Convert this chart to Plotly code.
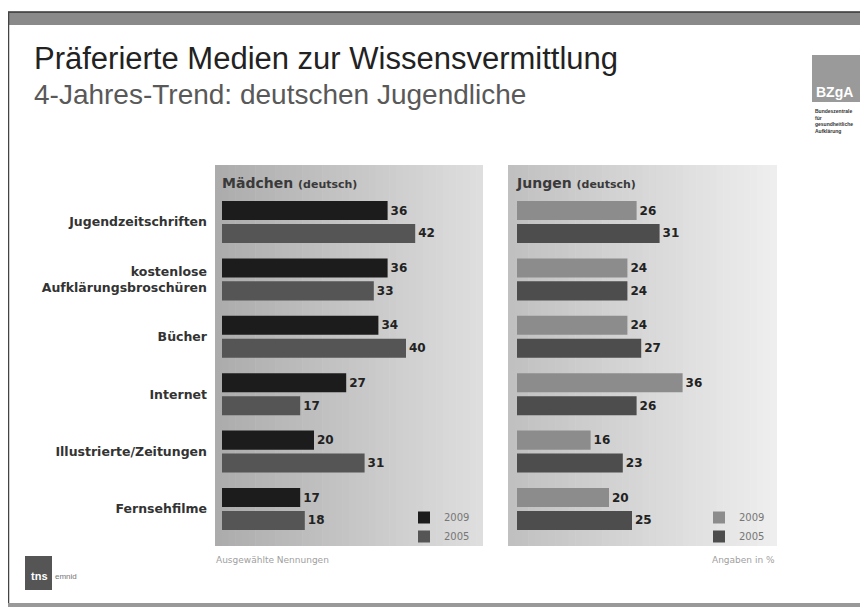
import plotly.graph_objects as go

W, H = 868, 608

# ---- data ----
categories = ["Jugendzeitschriften", "kostenlose<br>Aufklärungsbroschüren", "Bücher",
              "Internet", "Illustrierte/Zeitungen", "Fernsehfilme"]
maedchen_2009 = [36, 36, 34, 27, 20, 17]
maedchen_2005 = [42, 33, 40, 17, 31, 18]
jungen_2009 = [26, 24, 24, 36, 16, 20]
jungen_2005 = [31, 24, 27, 26, 23, 25]
years = ["2009", "2005"]

OFF = 8  # page body margin offset


def fx(p):
    return (p - OFF) / W


def fy(p):
    return 1 - (p - OFF) / H


def hexgray(v):
    v = int(round(v))
    return "#%02x%02x%02x" % (v, v, v)


FONT = "Liberation Sans, Arial, sans-serif"
DV = "DejaVu Sans, Verdana, sans-serif"
PXU = 4.6  # pixels per percent

fig = go.Figure()

common = dict(orientation="h", textposition="outside", texttemplate="%{x}",
              textfont=dict(family=DV, size=12, color="#222", weight="bold"),
              constraintext="none", cliponaxis=False, marker_line_width=0,
              hoverinfo="skip")

fig.add_trace(go.Bar(y=categories, x=maedchen_2009, name=years[0], marker_color="#1c1c1c",
                     xaxis="x", yaxis="y", legend="legend", **common))
fig.add_trace(go.Bar(y=categories, x=maedchen_2005, name=years[1], marker_color="#555555",
                     xaxis="x", yaxis="y", legend="legend", **common))
fig.add_trace(go.Bar(y=categories, x=jungen_2009, name=years[0], marker_color="#8c8c8c",
                     xaxis="x2", yaxis="y2", legend="legend2", **common))
fig.add_trace(go.Bar(y=categories, x=jungen_2005, name=years[1], marker_color="#4d4d4d",
                     xaxis="x2", yaxis="y2", legend="legend2", **common))

# panel geometry (pixels)
L1, R1 = 215, 483
L2, R2 = 508, 777
PT, PB = 165, 546
y_top, y_bot = 193.3, 537.7

shapes = []


def gradient_panel(x0, x1, c0, c1, n=40):
    for i in range(n):
        a = x0 + (x1 - x0) * i / n
        b = x0 + (x1 - x0) * (i + 1) / n + 0.6
        c = c0 + (c1 - c0) * i / (n - 1)
        shapes.append(dict(type="rect", xref="paper", yref="paper", layer="below",
                           x0=fx(a), x1=fx(min(b, x1)), y0=fy(PB), y1=fy(PT),
                           fillcolor=hexgray(c), line_width=0))


gradient_panel(L1, R1, 172, 222)
gradient_panel(L2, R2, 192, 238)

# frame: top band, left border, bottom line
shapes.append(dict(type="rect", xref="paper", yref="paper", x0=fx(8), x1=1, y0=fy(25), y1=fy(12),
                   fillcolor="#8a8a8a", line_width=0, layer="below"))
shapes.append(dict(type="line", xref="paper", yref="paper", x0=fx(8), x1=1, y0=fy(12), y1=fy(12),
                   line=dict(color="#333", width=1.5)))
shapes.append(dict(type="line", xref="paper", yref="paper", x0=fx(8.5), x1=fx(8.5), y0=fy(606), y1=fy(12),
                   line=dict(color="#444", width=1.5)))
shapes.append(dict(type="rect", xref="paper", yref="paper", x0=fx(8), x1=1, y0=fy(607), y1=fy(603),
                   fillcolor="#999", line_width=0))
# BZgA logo block
shapes.append(dict(type="rect", xref="paper", yref="paper", x0=fx(812), x1=1, y0=fy(102), y1=fy(55),
                   fillcolor="#9a9a9a", line_width=0))
# tns emnid logo block
shapes.append(dict(type="rect", xref="paper", yref="paper", x0=fx(25), x1=fx(52), y0=fy(590), y1=fy(556),
                   fillcolor="#555", line_width=0))

annotations = [
    dict(text="Präferierte Medien zur Wissensvermittlung", x=fx(32), y=fy(58), xanchor="left",
         yanchor="middle", font=dict(family=FONT, size=31, color="#222")),
    dict(text="4-Jahres-Trend: deutschen Jugendliche", x=fx(32), y=fy(95), xanchor="left",
         yanchor="middle", font=dict(family=FONT, size=28, color="#595959")),
    dict(text="Mädchen <span style='font-size:11px'>(deutsch)</span>", x=fx(220), y=fy(183),
         xanchor="left", yanchor="middle", font=dict(family=DV, size=14, color="#3a3a3a", weight="bold")),
    dict(text="Jungen <span style='font-size:11px'>(deutsch)</span>", x=fx(514), y=fy(183),
         xanchor="left", yanchor="middle", font=dict(family=DV, size=14, color="#3a3a3a", weight="bold")),
    dict(text="Ausgewählte Nennungen", x=fx(214), y=fy(560), xanchor="left", yanchor="middle",
         font=dict(family=DV, size=9, color="#a0a0a0")),
    dict(text="Angaben in %", x=fx(777), y=fy(560), xanchor="right", yanchor="middle",
         font=dict(family=DV, size=9, color="#a0a0a0")),
    dict(text="<b>BZgA</b>", x=fx(814), y=fy(92), xanchor="left", yanchor="middle",
         font=dict(family=FONT, size=14, color="white")),
    dict(text="Bundeszentrale<br>für<br>gesundheitliche<br>Aufklärung", x=fx(813), y=fy(106),
         xanchor="left", yanchor="top", align="left",
         font=dict(family=FONT, size=5, color="#333", weight="bold")),
    dict(text="<b>tns</b>", x=fx(29), y=fy(576), xanchor="left", yanchor="middle",
         font=dict(family=FONT, size=11, color="white")),
    dict(text="emnid", x=fx(53), y=fy(576), xanchor="left", yanchor="middle",
         font=dict(family=FONT, size=8, color="#777")),
]
for a in annotations:
    a.update(xref="paper", yref="paper", showarrow=False)

legend_common = dict(font=dict(family=DV, size=10, color="#777"), bgcolor="rgba(0,0,0,0)",
                     xanchor="left", yanchor="top", tracegroupgap=0, itemwidth=30,
                     traceorder="normal")

fig.update_layout(
    width=W, height=H, margin=dict(l=0, r=0, t=0, b=0),
    paper_bgcolor="white", plot_bgcolor="rgba(0,0,0,0)",
    barmode="group", bargap=0.2, bargroupgap=0.17,
    showlegend=True,
    legend=dict(x=fx(404), y=fy(503), **legend_common),
    legend2=dict(x=fx(699), y=fy(503), **legend_common),
    xaxis=dict(domain=[fx(222), fx(R1)], range=[0, (R1 - 222) / PXU], visible=False, fixedrange=True),
    xaxis2=dict(domain=[fx(517), fx(R2)], range=[0, (R2 - 517) / PXU], visible=False, fixedrange=True),
    yaxis=dict(domain=[fy(y_bot), fy(y_top)], autorange="reversed", showgrid=False, zeroline=False,
               showline=False, ticks="", ticklabelstandoff=14,
               tickfont=dict(family=DV, size=12.5, color="#333", weight="bold")),
    yaxis2=dict(domain=[fy(y_bot), fy(y_top)], autorange="reversed", anchor="x2", showgrid=False,
                zeroline=False, showline=False, showticklabels=False, ticks=""),
    shapes=shapes, annotations=annotations,
)

fig.write_html("out.html")
